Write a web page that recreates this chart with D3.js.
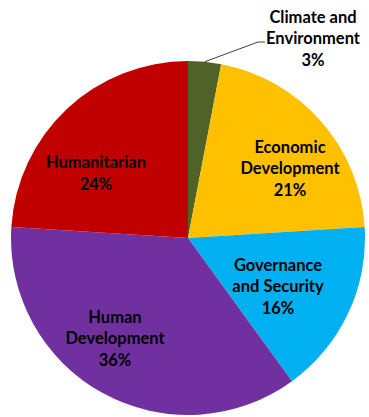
<!DOCTYPE html>
<html>
<head>
<meta charset="utf-8">
<script src="https://cdn.jsdelivr.net/npm/d3@7"></script>
<style>
  body { margin: 0; background: #fff; }
  text { font-family: Lato, "Open Sans", sans-serif; font-weight: bold; fill: #000; }
</style>
</head>
<body>
<svg id="chart" width="369" height="417"></svg>
<script>
// slices, clockwise from 12 o'clock
const categories = ['Climate and Environment', 'Economic Development', 'Governance and Security', 'Human Development', 'Humanitarian'];
const shares = [3, 21, 16, 36, 24];
const colours = ['#4F6228', '#FFC000', '#00B0F0', '#7030A0', '#C00000'];
// label lines per slice
const labelLines = [
    ['Climate and', 'Environment', '3%'],
    ['Economic', 'Development', '21%'],
    ['Governance', 'and Security', '16%'],
    ['Human', 'Development', '36%'],
    ['Humanitarian', '24%']
];

const svg = d3.select('#chart');
const cx = 188, cy = 238, radius = 177;
const g = svg.append('g').attr('transform', `translate(${cx},${cy})`);

const data = categories.map((c, i) => ({name: c, value: shares[i], lines: labelLines[i]}));

const pie = d3.pie().sort(null).value(d => d.value);
const arc = d3.arc().innerRadius(0).outerRadius(radius);
const arcs = pie(data);

g.selectAll('path.slice')
    .data(arcs)
    .enter().append('path')
    .attr('class', 'slice')
    .attr('d', arc)
    .attr('fill', (d, i) => colours[i]);

// label centres (relative to pie centre), inside labels except the small first slice
const labelPos = [
    [125, -200],
    [102, -70],
    [90, 48],
    [-73, 100],
    [-92, -65]
];
const lineH = 21.5;

arcs.forEach((a, i) => {
    const lines = a.data.lines;
    const [lx, ly] = labelPos[i];
    const t = g.append('text')
        .attr('text-anchor', 'middle')
        .attr('font-size', 16.5);
    lines.forEach((s, k) => {
        t.append('tspan')
            .attr('x', lx)
            .attr('y', ly + (k - (lines.length - 1) / 2) * lineH + 6)
            .text(s);
    });
});

// leader line for the small slice
const mid = (arcs[0].startAngle + arcs[0].endAngle) / 2;
const p0 = [Math.sin(mid) * radius, -Math.cos(mid) * radius];
g.append('polyline')
    .attr('points', [p0, [70, -196], [77, -196]].map(p => p.join(',')).join(' '))
    .attr('fill', 'none')
    .attr('stroke', '#404040')
    .attr('stroke-width', 1);
</script>
</body>
</html>
